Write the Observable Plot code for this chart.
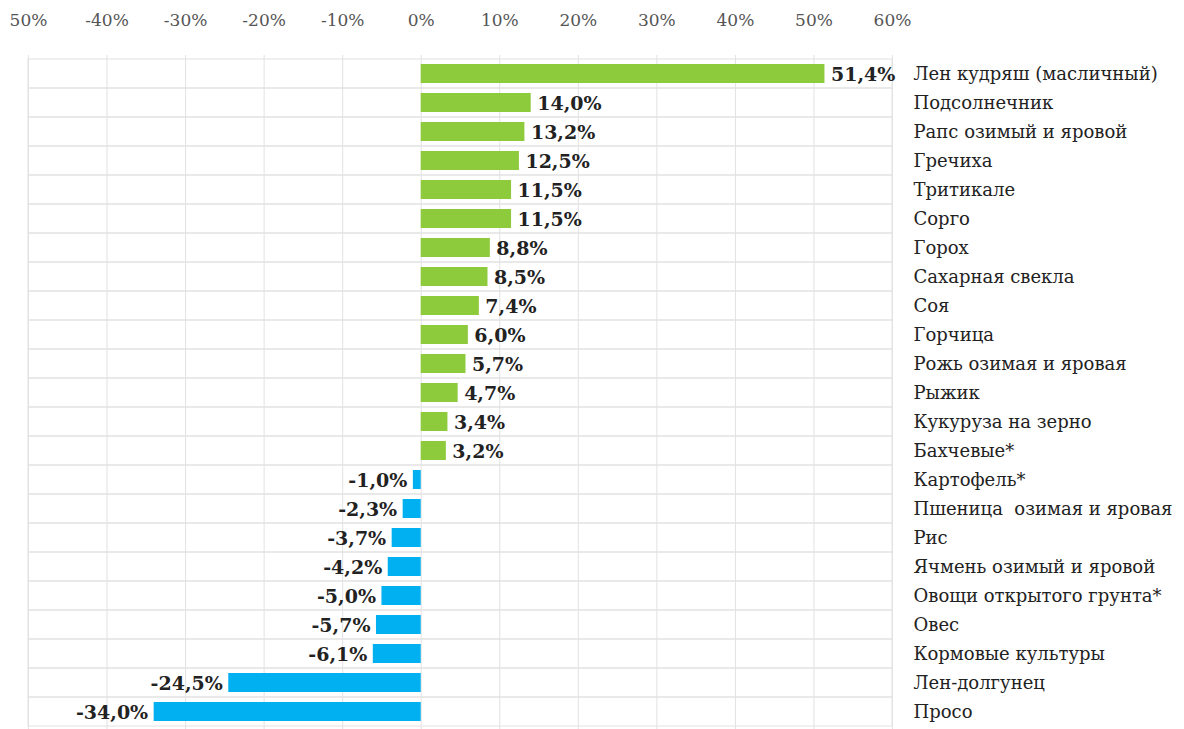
<!DOCTYPE html>
<html>
<head>
<meta charset="utf-8">
<script src="https://cdn.jsdelivr.net/npm/d3@7"></script>
<script src="https://cdn.jsdelivr.net/npm/@observablehq/plot@0.6"></script>
<style>
  html, body { margin: 0; padding: 0; background: #fff; }
  svg { display: block; }
</style>
</head>
<body>
<div id="chart"></div>
<script>
const categories = [
  "Лен кудряш (масличный)", "Подсолнечник", "Рапс озимый и яровой", "Гречиха",
  "Тритикале", "Сорго", "Горох", "Сахарная свекла", "Соя", "Горчица",
  "Рожь озимая и яровая", "Рыжик", "Кукуруза на зерно", "Бахчевые*",
  "Картофель*", "Пшеница  озимая и яровая", "Рис", "Ячмень озимый и яровой",
  "Овощи открытого грунта*", "Овес", "Кормовые культуры", "Лен-долгунец", "Просо"
];
const values = [
  51.4, 14.0, 13.2, 12.5, 11.5, 11.5, 8.8, 8.5, 7.4, 6.0, 5.7, 4.7, 3.4, 3.2,
  -1.0, -2.3, -3.7, -4.2, -5.0, -5.7, -6.1, -24.5, -34.0
];
const tickValues = [-50, -40, -30, -20, -10, 0, 10, 20, 30, 40, 50, 60];
const tickLabels = ["50%", "-40%", "-30%", "-20%", "-10%", "0%", "10%", "20%", "30%", "40%", "50%", "60%"];

const data = categories.map((c, i) => ({
  name: c,
  value: values[i],
  label: values[i].toFixed(1).replace(".", ",") + "%"
}));

const serif = "DejaVu Serif";
const green = "#8DCB3D";
const blue = "#00B0F0";

const chart = Plot.plot({
  width: 1184,
  height: 729,
  marginTop: 55,
  marginBottom: 0,
  marginLeft: 28,
  marginRight: 292,
  style: { fontFamily: serif, background: "#fff" },
  x: {
    domain: [-50, 60],
    axis: null
  },
  y: {
    domain: categories,
    padding: 0,
    axis: null
  },
  marks: [
    Plot.barX(categories, {y: d => d, x1: -50, x2: 60, fill: "none", stroke: "#e2e2e2", strokeWidth: 1}),
    Plot.ruleX(tickValues, {stroke: "#e2e2e2", strokeWidth: 1}),
    Plot.axisX({
      anchor: "top",
      ticks: tickValues,
      tickSize: 0,
      tickPadding: 30,
      tickFormat: (d) => tickLabels[tickValues.indexOf(d)],
      fontSize: 17,
      fontFamily: serif,
      fill: "#555",
      label: null
    }),
    Plot.barX(data, {
      y: "name", x: "value",
      fill: d => d.value >= 0 ? green : blue,
      insetTop: 5, insetBottom: 5
    }),
    Plot.text(data.filter(d => d.value >= 0), {
      y: "name", x: "value", text: "label",
      textAnchor: "start", dx: 6, dy: 1,
      fontFamily: serif,
      fontWeight: "bold", fontSize: 19, fill: "#222"
    }),
    Plot.text(data.filter(d => d.value < 0), {
      y: "name", x: "value", text: "label",
      textAnchor: "end", dx: -6, dy: 1,
      fontFamily: serif,
      fontWeight: "bold", fontSize: 19, fill: "#222"
    }),
    Plot.axisY({
      anchor: "right",
      tickSize: 0,
      tickPadding: 21,
      fontSize: 18,
      fontFamily: serif,
      fill: "#222",
      label: null
    })
  ]
});

document.getElementById("chart").appendChild(chart);
</script>
</body>
</html>
